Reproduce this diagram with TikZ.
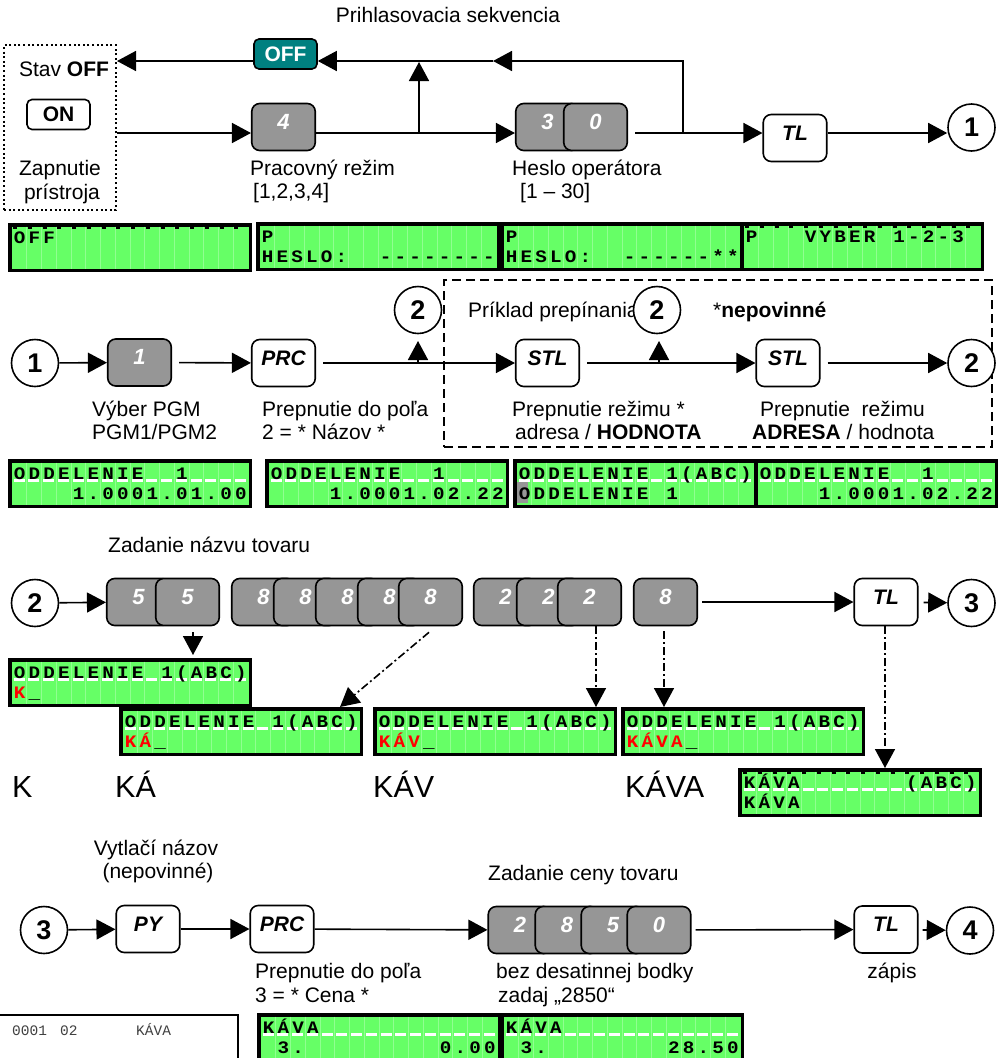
\documentclass[tikz,border=0pt]{standalone}
\usepackage{fontspec}
\setmainfont{Liberation Sans}
\newfontfamily\lcdmono{Liberation Mono}[FakeStretch=1.1]
\newfontfamily\prtmono{Liberation Mono}
\usetikzlibrary{arrows.meta,calc}
\definecolor{lcdgreen}{RGB}{102,255,102}
\definecolor{lcdline}{RGB}{145,255,145}
\definecolor{keygray}{RGB}{150,150,150}
\definecolor{tealbox}{RGB}{0,128,128}
\definecolor{prtgray}{RGB}{64,64,64}

\ExplSyntaxOn
\dim_new:N \l_lcdcell_dim
\dim_set:Nn \l_lcdcell_dim {14.75pt}
\NewDocumentCommand \lcdchars { m }
  {
    \str_map_inline:nn {#1}
      {
        \str_if_eq:nnTF {##1} {!}
          { \hbox_to_wd:nn { \l_lcdcell_dim } { } }
          { \hbox_to_wd:nn { \l_lcdcell_dim } { \hfil ##1 \hfil } }
      }
  }
\ExplSyntaxOff

\newcommand\lcdbox[6]{%
  \def\lx{#2}\def\ly{#3}%
  \node[lcdframe] (#1) at (#2+122,#3+24.5) {};
  \foreach \k in {1,...,15}{\draw[lcdgrid] (#2+4+\k*14.75,#3+3.5) -- (#2+4+\k*14.75,#3+45.5);}
  #4
  \node[lcdtxt] (#1-a) at (#2+4,#3+20) {#5};
  \node[lcdtxt] (#1-b) at (#2+4,#3+40) {#6};
}

\begin{document}
\begin{tikzpicture}[x=1pt,y=-1pt,
  every node/.style={inner sep=0pt},
  txt/.style={font=\fontsize{21}{25}\selectfont},
  arr/.style={line width=1.6pt,-{Triangle[length=19pt,width=20pt]}},
  dd/.style={dash pattern=on 8pt off 3pt on 2pt off 3pt},
  key/.style={draw=black,line width=1.6pt,rounded corners=8pt,minimum width=63.5pt,minimum height=47pt,text height=15pt,text depth=11pt,font=\fontsize{22}{22}\selectfont\bfseries\itshape},
  gkey/.style={key,fill=keygray,text=white},
  wkey/.style={key,fill=white,font=\fontsize{21}{21}\selectfont\bfseries\itshape},
  circ/.style={circle,draw=black,line width=1.6pt,fill=white,minimum size=47pt,font=\fontsize{27}{27}\selectfont\bfseries},
  lcdframe/.style={draw=black,line width=3.5pt,fill=lcdgreen,minimum width=240.5pt,minimum height=45.5pt},
  lcdgrid/.style={draw=lcdline,line width=0.6pt},
  lcdtxt/.style={anchor=base west,font=\lcdmono\bfseries\fontsize{17.5}{17.5}\selectfont},
  wdash/.style={draw=white,line width=2.5pt,dash pattern=on 11pt off 3.75pt},
  tdash/.style={draw=black,line width=1.5pt,dash pattern=on 4pt off 10.75pt},
]
\useasboundingbox (0,0) rectangle (1003,1058);
\fill[white] (0,0) rectangle (1003,1058);

% ---------------- section 1
\node[txt,anchor=base] (title1) at (448,22) {Prihlasovacia sekvencia};
\node[draw,line width=2pt,dash pattern=on 2pt off 2.6pt,minimum width=112pt,minimum height=165pt] (stav) at (60,127.5) {};
\node[txt,anchor=base] (stavt) at (64,76) {Stav \textbf{OFF}};
\node[draw,line width=1.6pt,rounded corners=5pt,minimum width=63pt,minimum height=30pt,font=\fontsize{21}{21}\selectfont\bfseries] (on) at (58.5,114.5) {ON};
\node[txt,anchor=base] (zap1) at (60,175) {Zapnutie};
\node[txt,anchor=base] (zap2) at (62,199) {prístroja};
\node[draw=black,line width=1.6pt,fill=tealbox,rounded corners=5pt,minimum width=63pt,minimum height=30pt,text=white,font=\fontsize{21}{21}\selectfont\bfseries] (offb) at (285.5,54) {OFF};

\node[gkey] (k4) at (283.5,127) {4};
\node[gkey] (k3) at (547.5,127) {3};
\node[gkey] (k0) at (595.5,127) {0};
\node[wkey] (tl1) at (795,138) {TL};
\node[circ] (c1a) at (971.5,127.5) {1};
\node[txt,anchor=base west] (pr1) at (250,175) {Pracovný režim};
\node[txt,anchor=base west] (pr2) at (253,198) {[1,2,3,4]};
\node[txt,anchor=base west] (he1) at (512,175) {Heslo operátora};
\node[txt,anchor=base west] (he2) at (520,198) {[1 – 30]};

\coordinate (yA) at (0,133);
\coordinate (yT) at (0,61);
\coordinate (jL) at (419,133);
\coordinate (jLt) at (419,62);
\coordinate (jR) at (683,133);
\coordinate (mA) at (493,61);
\draw[arr] (stav.east |- yA) -- (k4.west |- yA);
\draw[arr] (k4.east |- yA) -- (k3.west |- yA);
\draw[arr,shorten <=7pt] (k0.east |- yA) -- (tl1.west |- yA);
\draw[arr] (tl1.east |- yA) -- (c1a.west |- yA);
\draw[arr] (jL) -- (jLt);
\draw[arr] (jR) -- (jR |- yT) -- (mA);
\draw[arr] (mA) -- (offb.east |- yT);
\draw[arr] (offb.west |- yT) -- (stav.east |- yT);

\lcdbox{d1}{8}{223}{\draw[tdash] (\lx+5,\ly+5) -- (\lx+240,\ly+5);}{\lcdchars{OFF}}{}
\lcdbox{d2}{256}{222}{}{\lcdchars{P}}{\lcdchars{HESLO:!!--------}}
\lcdbox{d3}{500}{222}{}{\lcdchars{P}}{\lcdchars{HESLO:!!------**}}
\lcdbox{d4}{740}{222}{\draw[tdash] (\lx+5,\ly+5) -- (\lx+240,\ly+5);}{\lcdchars{P!!!VYBER!1-2-3}}{}

% ---------------- section 2
\node[draw,line width=2pt,dash pattern=on 9pt off 5pt,minimum width=548pt,minimum height=167pt] (opt) at (718,363.5) {};
\node[txt,anchor=base west] (pk) at (468,317) {Príklad prepínania};
\node[txt,anchor=base west] (nep) at (713,317) {*\textbf{nepovinné}};
\node[circ] (c1b) at (35,363) {1};
\node[gkey] (k1) at (139.5,362.5) {1};
\node[wkey] (prc1) at (283.5,363) {PRC};
\node[wkey] (stl1) at (547.5,363) {STL};
\node[wkey] (stl2) at (788,363) {STL};
\node[circ] (c2a) at (418,310) {2};
\node[circ] (c2b) at (657,310) {2};
\node[circ] (c2c) at (971.5,363) {2};
\coordinate (u1) at (418,363);
\coordinate (u1t) at (418,341);
\coordinate (u2) at (659,363);
\coordinate (u2t) at (659,341);
\draw[arr] (c1b) -- (k1);
\draw[arr,shorten <=7pt] (k1) -- (prc1);
\draw[arr,shorten <=7pt] (prc1) -- (stl1);
\draw[arr,shorten <=7pt] (stl1) -- (stl2);
\draw[arr,shorten <=7pt] (stl2) -- (c2c);
\draw[arr] (u1) -- (u1t);
\draw[arr] (u2) -- (u2t);
\node[txt,anchor=base west] (vb1) at (92,416) {Výber PGM};
\node[txt,anchor=base west] (vb2) at (92,439) {PGM1/PGM2};
\node[txt,anchor=base west] (pp1) at (262,416) {Prepnutie do poľa};
\node[txt,anchor=base west] (pp2) at (262,439) {2 = * Názov *};
\node[txt,anchor=base west] (pr3) at (512,416) {Prepnutie režimu *};
\node[txt,anchor=base west] (pr4) at (515,439) {adresa / \textbf{HODNOTA}};
\node[txt,anchor=base west] (pr5) at (760,416) {Prepnutie\ \ režimu};
\node[txt,anchor=base west] (pr6) at (752,439) {\textbf{ADRESA} / hodnota};

\lcdbox{d5}{8}{459}{\draw[wdash] (\lx+5.5,\ly+21.5) -- (\lx+240,\ly+21.5);}{\lcdchars{ODDELENIE!!1}}{\lcdchars{!!!!1.0001.01.00}}
\lcdbox{d6}{265}{459}{\draw[wdash] (\lx+5.5,\ly+21.5) -- (\lx+240,\ly+21.5);}{\lcdchars{ODDELENIE!!1}}{\lcdchars{!!!!1.0001.02.22}}
\lcdbox{d7}{513}{459}{\draw[wdash] (\lx+5.5,\ly+21.5) -- (\lx+240,\ly+21.5);\fill[keygray] (\lx+4,\ly+23) rectangle (\lx+15,\ly+44);}{\lcdchars{ODDELENIE!1(ABC)}}{\lcdchars{ODDELENIE!1}}
\lcdbox{d8}{754}{459}{\draw[wdash] (\lx+5.5,\ly+21.5) -- (\lx+240,\ly+21.5);}{\lcdchars{ODDELENIE!!1}}{\lcdchars{!!!!1.0001.02.22}}

% ---------------- section 3
\node[txt,anchor=base west] (zn) at (108,552) {Zadanie názvu tovaru};
\node[circ] (c2d) at (35,603) {2};
\node[gkey] (k5a) at (138.5,602) {5};
\node[gkey] (k5b) at (187.5,602) {5};
\node[gkey] (k8a) at (263.5,602) {8};
\node[gkey] (k8b) at (305.5,602) {8};
\node[gkey] (k8c) at (347.5,602) {8};
\node[gkey] (k8d) at (389.5,602) {8};
\node[gkey] (k8e) at (430.5,602) {8};
\node[gkey] (k2a) at (505.5,602) {2};
\node[gkey] (k2b) at (548.5,602) {2};
\node[gkey] (k2c) at (589.5,602) {2};
\node[gkey] (k8f) at (665.5,602) {8};
\node[wkey] (tl2) at (886,602) {TL};
\node[circ] (c3a) at (971.5,603) {3};
\draw[arr] (c2d) -- (k5a);
\draw[arr,shorten <=4pt] (k8f) -- (tl2);
\draw[arr,shorten <=5pt] (tl2) -- (c3a);

\lcdbox{d9}{8}{658}{\draw[wdash] (\lx+5.5,\ly+21.5) -- (\lx+240,\ly+21.5);}{\lcdchars{ODDELENIE!1(ABC)}}{{\color{red}\lcdchars{K}}\lcdchars{_}}
\lcdbox{d10}{119}{707}{\draw[wdash] (\lx+5.5,\ly+21.5) -- (\lx+240,\ly+21.5);}{\lcdchars{ODDELENIE!1(ABC)}}{{\color{red}\lcdchars{KÁ}}\lcdchars{_}}
\lcdbox{d11}{373}{707}{\draw[wdash] (\lx+5.5,\ly+21.5) -- (\lx+240,\ly+21.5);}{\lcdchars{ODDELENIE!1(ABC)}}{{\color{red}\lcdchars{KÁV}}\lcdchars{_}}
\lcdbox{d12}{621}{707}{\draw[wdash] (\lx+5.5,\ly+21.5) -- (\lx+240,\ly+21.5);}{\lcdchars{ODDELENIE!1(ABC)}}{{\color{red}\lcdchars{KÁVA}}\lcdchars{_}}
\lcdbox{d13}{738}{768}{\draw[wdash] (\lx+5.5,\ly+21.5) -- (\lx+240,\ly+21.5);\draw[tdash] (\lx+5,\ly+5) -- (\lx+240,\ly+5);}{\lcdchars{KÁVA!!!!!!!(ABC)}}{\lcdchars{KÁVA}}

\coordinate (p1) at ($(k5b.south)+(5.5,6)$);
\coordinate (p5) at ($(k8e.south)+(-1.5,6)$);
\coordinate (p5e) at ($(d10.north)+(99,0)$);
\coordinate (p2) at ($(k2c.south)+(6.5,0)$);
\coordinate (p3) at ($(k8f.south)+(-1.5,5)$);
\coordinate (p4) at ($(tl2.south)+(-1,0)$);
\draw[arr,shorten >=3pt] (p1) -- (p1 |- d9.north);
\draw[arr,dd] (p5) -- (p5e);
\draw[arr,dd] (p2) -- (p2 |- d11.north);
\draw[arr,dd] (p3) -- (p3 |- d12.north);
\draw[arr,dd] (p4) -- (p4 |- d13.north);

\node[anchor=base west,font=\fontsize{30.5}{31}\selectfont] (bk1) at (12,797) {K};
\node[anchor=base west,font=\fontsize{30.5}{31}\selectfont] (bk2) at (115,797) {KÁ};
\node[anchor=base west,font=\fontsize{30.5}{31}\selectfont] (bk3) at (373,797) {KÁV};
\node[anchor=base west,font=\fontsize{30.5}{31}\selectfont] (bk4) at (625,797) {KÁVA};

% ---------------- section 4
\node[txt,anchor=base] (vy1) at (156,855) {Vytlačí názov};
\node[txt,anchor=base] (vy2) at (158,878) {(nepovinné)};
\node[txt,anchor=base west] (zc) at (488,880) {Zadanie ceny tovaru};
\node[circ] (c3b) at (44,930) {3};
\node[wkey] (py) at (148,929) {PY};
\node[wkey] (prc2) at (282,929) {PRC};
\node[gkey] (q2) at (520,930) {2};
\node[gkey] (q8) at (567,930) {8};
\node[gkey] (q5) at (613,930) {5};
\node[gkey] (q0) at (659,930) {0};
\node[wkey] (tl3) at (886,929.5) {TL};
\node[circ] (c4) at (970,930.5) {4};
\draw[arr] (c3b) -- (py);
\draw[arr] (py) -- (prc2);
\draw[arr] (prc2) -- (q2);
\draw[arr,shorten <=4pt] (q0) -- (tl3);
\draw[arr,shorten <=4pt] (tl3) -- (c4);
\node[txt,anchor=base west] (pc1) at (255,978) {Prepnutie do poľa};
\node[txt,anchor=base west] (pc2) at (255,1002) {3 = * Cena *};
\node[txt,anchor=base west] (bd1) at (496,978) {bez desatinnej bodky};
\node[txt,anchor=base west] (bd2) at (498,1002) {zadaj „2850“};
\node[txt,anchor=base] (zp) at (892,978) {zápis};

\node[draw,line width=2pt,fill=white,minimum width=245pt,minimum height=60pt,anchor=north west] (prt) at (-8,1014) {};
\node[anchor=base west,font=\prtmono\fontsize{14.5}{15}\selectfont,text=prtgray] (pt1) at (12,1035) {0001};
\node[anchor=base west,font=\prtmono\fontsize{14.5}{15}\selectfont,text=prtgray] (pt2) at (60,1035) {02};
\node[anchor=base west,font=\prtmono\fontsize{14.5}{15}\selectfont,text=prtgray] (pt3) at (136,1035) {KÁVA};

\lcdbox{d14}{257}{1013}{\draw[wdash] (\lx+5.5,\ly+21.5) -- (\lx+240,\ly+21.5);}{\lcdchars{KÁVA}}{\lcdchars{!3.!!!!!!!!!0.00}}
\lcdbox{d15}{500}{1013}{\draw[wdash] (\lx+5.5,\ly+21.5) -- (\lx+240,\ly+21.5);}{\lcdchars{KÁVA}}{\lcdchars{!3.!!!!!!!!28.50}}
\end{tikzpicture}
\end{document}
